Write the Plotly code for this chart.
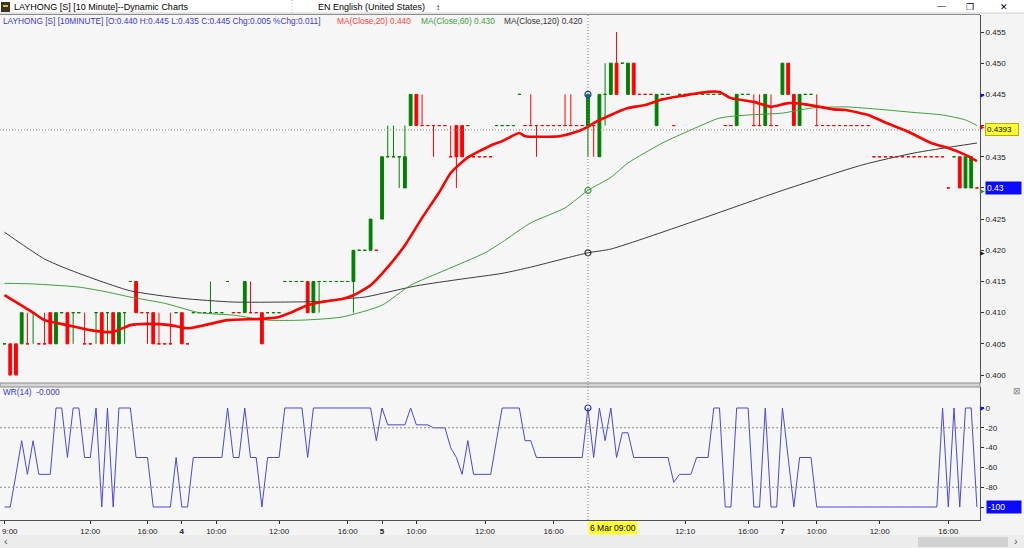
import plotly.graph_objects as go

# ---------------- data ----------------
bar_index = list(range(171))

price_open = [
    0.405, 0.405, 0.405, 0.405, 0.405, 0.410, 0.405, 0.405, 0.410, 0.405,
    0.410, 0.410, 0.410, 0.410, 0.405, 0.405, 0.410, 0.410, 0.410, 0.410,
    0.405, 0.410, 0.415, 0.415, 0.410, 0.410, 0.410, 0.405, 0.405, 0.405,
    0.410, 0.410, 0.405, 0.410, 0.410, 0.410, 0.410, 0.410, 0.410, 0.415,
    0.410, 0.410, 0.410, 0.410, 0.410, 0.410, 0.410, 0.410, 0.410, 0.415,
    0.415, 0.415, 0.415, 0.415, 0.410, 0.415, 0.415, 0.415, 0.415, 0.415,
    0.415, 0.415, 0.420, 0.420, 0.420, 0.420, 0.425, 0.435, 0.435, 0.435,
    0.430, 0.440, 0.445, 0.440, 0.440, 0.440, 0.440, 0.440, 0.435, 0.440,
    0.440, 0.440, 0.435, 0.435, 0.435, 0.435, 0.440, 0.440, 0.440, 0.440,
    0.445, 0.440, 0.440, 0.440, 0.440, 0.440, 0.440, 0.440, 0.440, 0.440,
    0.440, 0.440, 0.440, 0.440, 0.435, 0.445, 0.445, 0.450, 0.450, 0.445,
    0.450, 0.445, 0.445, 0.445, 0.440, 0.445, 0.445, 0.440, 0.445, 0.445,
    0.445, 0.445, 0.445, 0.445, 0.445, 0.445, 0.440, 0.440, 0.440, 0.445,
    0.445, 0.440, 0.440, 0.440, 0.440, 0.440, 0.445, 0.450, 0.445, 0.440,
    0.445, 0.445, 0.440, 0.440, 0.440, 0.440, 0.440, 0.440, 0.440, 0.440,
    0.440, 0.440, 0.435, 0.435, 0.435, 0.435, 0.435, 0.435, 0.435, 0.435,
    0.435, 0.435, 0.435, 0.435, 0.435, 0.430, 0.435, 0.435, 0.430, 0.430,
    0.430]
price_high = [
    0.405, 0.405, 0.405, 0.410, 0.410, 0.410, 0.405, 0.410, 0.410, 0.410,
    0.410, 0.410, 0.410, 0.410, 0.410, 0.405, 0.410, 0.410, 0.410, 0.410,
    0.410, 0.410, 0.415, 0.415, 0.410, 0.410, 0.410, 0.410, 0.405, 0.410,
    0.410, 0.410, 0.405, 0.410, 0.410, 0.410, 0.415, 0.410, 0.410, 0.415,
    0.410, 0.410, 0.415, 0.415, 0.410, 0.410, 0.410, 0.410, 0.410, 0.415,
    0.415, 0.415, 0.415, 0.415, 0.415, 0.415, 0.415, 0.415, 0.415, 0.415,
    0.415, 0.420, 0.420, 0.420, 0.425, 0.420, 0.435, 0.440, 0.440, 0.435,
    0.440, 0.445, 0.445, 0.445, 0.440, 0.440, 0.440, 0.440, 0.440, 0.440,
    0.440, 0.440, 0.435, 0.435, 0.435, 0.435, 0.440, 0.440, 0.440, 0.440,
    0.445, 0.440, 0.445, 0.440, 0.440, 0.440, 0.440, 0.440, 0.445, 0.445,
    0.440, 0.440, 0.445, 0.440, 0.445, 0.450, 0.450, 0.455, 0.450, 0.450,
    0.450, 0.445, 0.445, 0.445, 0.445, 0.445, 0.445, 0.440, 0.445, 0.445,
    0.445, 0.445, 0.445, 0.445, 0.445, 0.445, 0.440, 0.440, 0.445, 0.445,
    0.445, 0.445, 0.445, 0.445, 0.445, 0.440, 0.450, 0.450, 0.445, 0.445,
    0.445, 0.445, 0.445, 0.440, 0.440, 0.440, 0.440, 0.440, 0.440, 0.440,
    0.440, 0.440, 0.435, 0.435, 0.435, 0.435, 0.435, 0.435, 0.435, 0.435,
    0.435, 0.435, 0.435, 0.435, 0.435, 0.430, 0.435, 0.435, 0.435, 0.435,
    0.430]
price_low = [
    0.405, 0.400, 0.400, 0.405, 0.405, 0.405, 0.405, 0.405, 0.405, 0.405,
    0.410, 0.405, 0.405, 0.410, 0.405, 0.405, 0.405, 0.405, 0.405, 0.405,
    0.405, 0.405, 0.415, 0.410, 0.410, 0.405, 0.405, 0.405, 0.405, 0.405,
    0.410, 0.405, 0.405, 0.410, 0.410, 0.410, 0.410, 0.410, 0.410, 0.415,
    0.410, 0.410, 0.410, 0.410, 0.410, 0.405, 0.410, 0.410, 0.410, 0.415,
    0.415, 0.415, 0.415, 0.410, 0.410, 0.410, 0.415, 0.415, 0.415, 0.415,
    0.415, 0.410, 0.420, 0.420, 0.420, 0.420, 0.425, 0.435, 0.435, 0.430,
    0.430, 0.440, 0.440, 0.440, 0.440, 0.435, 0.440, 0.440, 0.435, 0.430,
    0.435, 0.440, 0.435, 0.435, 0.435, 0.435, 0.440, 0.440, 0.440, 0.440,
    0.445, 0.440, 0.440, 0.435, 0.440, 0.440, 0.440, 0.440, 0.440, 0.440,
    0.440, 0.440, 0.435, 0.435, 0.435, 0.440, 0.445, 0.445, 0.450, 0.445,
    0.445, 0.445, 0.445, 0.445, 0.440, 0.445, 0.445, 0.440, 0.445, 0.445,
    0.445, 0.445, 0.445, 0.445, 0.445, 0.445, 0.440, 0.440, 0.440, 0.445,
    0.445, 0.440, 0.440, 0.440, 0.440, 0.440, 0.445, 0.445, 0.440, 0.440,
    0.445, 0.445, 0.440, 0.440, 0.440, 0.440, 0.440, 0.440, 0.440, 0.440,
    0.440, 0.440, 0.435, 0.435, 0.435, 0.435, 0.435, 0.435, 0.435, 0.435,
    0.435, 0.435, 0.435, 0.435, 0.435, 0.430, 0.435, 0.430, 0.430, 0.430,
    0.430]
price_close = [
    0.405, 0.400, 0.400, 0.410, 0.405, 0.410, 0.405, 0.405, 0.405, 0.410,
    0.410, 0.405, 0.410, 0.410, 0.405, 0.405, 0.410, 0.405, 0.410, 0.405,
    0.410, 0.410, 0.415, 0.410, 0.410, 0.410, 0.405, 0.405, 0.405, 0.405,
    0.410, 0.405, 0.405, 0.410, 0.410, 0.410, 0.410, 0.410, 0.410, 0.415,
    0.410, 0.410, 0.415, 0.410, 0.410, 0.405, 0.410, 0.410, 0.410, 0.415,
    0.415, 0.415, 0.415, 0.410, 0.415, 0.415, 0.415, 0.415, 0.415, 0.415,
    0.415, 0.420, 0.420, 0.420, 0.425, 0.420, 0.435, 0.435, 0.435, 0.435,
    0.435, 0.445, 0.440, 0.440, 0.440, 0.440, 0.440, 0.440, 0.435, 0.435,
    0.435, 0.440, 0.435, 0.435, 0.435, 0.435, 0.440, 0.440, 0.440, 0.440,
    0.445, 0.440, 0.440, 0.440, 0.440, 0.440, 0.440, 0.440, 0.440, 0.440,
    0.440, 0.440, 0.445, 0.440, 0.445, 0.445, 0.450, 0.445, 0.450, 0.450,
    0.445, 0.445, 0.445, 0.445, 0.445, 0.445, 0.445, 0.440, 0.445, 0.445,
    0.445, 0.445, 0.445, 0.445, 0.445, 0.445, 0.440, 0.440, 0.445, 0.445,
    0.445, 0.440, 0.440, 0.445, 0.440, 0.440, 0.450, 0.445, 0.440, 0.445,
    0.445, 0.445, 0.440, 0.440, 0.440, 0.440, 0.440, 0.440, 0.440, 0.440,
    0.440, 0.440, 0.435, 0.435, 0.435, 0.435, 0.435, 0.435, 0.435, 0.435,
    0.435, 0.435, 0.435, 0.435, 0.435, 0.430, 0.435, 0.430, 0.435, 0.435,
    0.430]

wr14 = [
    -100, -100, -67, -33, -67, -33, -67, -67, -67, 0,
    0, -50, 0, 0, -50, -50, 0, -100, 0, -100,
    0, 0, 0, -50, -50, -50, -100, -100, -100, -100,
    -50, -100, -100, -50, -50, -50, -50, -50, -50, 0,
    -50, -50, 0, -50, -50, -100, -50, -50, -50, 0,
    0, 0, 0, -50, 0, 0, 0, 0, 0, 0,
    0, 0, 0, 0, 0, -33, 0, -17, -17, -17,
    -17, 0, -17, -17, -17, -20, -20, -20, -40, -50,
    -67, -33, -67, -67, -67, -67, -33, 0, 0, 0,
    0, -33, -33, -50, -50, -50, -50, -50, -50, -50,
    -50, -50, 0, -50, 0, -33, 0, -50, -25, -25,
    -50, -50, -50, -50, -50, -50, -50, -75, -67, -67,
    -67, -50, -50, -50, 0, 0, -100, -100, 0, 0,
    0, -100, -100, 0, -100, -100, 0, -50, -100, -50,
    -50, -50, -100, -100, -100, -100, -100, -100, -100, -100,
    -100, -100, -100, -100, -100, -100, -100, -100, -100, -100,
    -100, -100, -100, -100, 0, -100, 0, -100, 0, 0,
    -100]

ma20_idx = [0, 5, 7, 11, 15, 19, 22, 25, 29, 32, 35, 39, 45, 48, 50, 53, 56, 59, 61, 64,
            67, 70, 73, 76, 78, 81, 85, 87, 90, 91, 97, 100, 102, 103, 106, 109, 112, 115, 118, 123,
            125, 127, 131, 134, 137, 140, 145, 147, 151, 154, 158, 162, 165, 168, 170]
ma20_val = [0.4128, 0.4100, 0.4088, 0.4080, 0.4072, 0.4069, 0.4080, 0.4082, 0.4080, 0.4075,
            0.4080, 0.4088, 0.4090, 0.4093, 0.4100, 0.4112, 0.4118, 0.4122, 0.4128, 0.4144,
            0.4173, 0.4208, 0.4252, 0.4293, 0.4324, 0.4349, 0.4368, 0.4375, 0.4388, 0.4383,
            0.4383, 0.4390, 0.4398, 0.4404, 0.4417, 0.4428, 0.4433, 0.4442, 0.4447, 0.4454,
            0.4454, 0.4444, 0.4438, 0.4430, 0.4436, 0.4434, 0.4426, 0.4425, 0.4417, 0.4405,
            0.4390, 0.4372, 0.4364, 0.4353, 0.4343]

ma60_idx = [0, 5, 13, 18, 22, 28, 34, 40, 46, 52, 59, 66, 71, 77, 84, 87, 92, 98, 102, 106,
            109, 115, 120, 125, 130, 136, 141, 147, 153, 159, 164, 168, 170]
ma60_val = [0.4147, 0.4146, 0.4141, 0.4133, 0.4125, 0.4115, 0.4100, 0.4096, 0.4088, 0.4088,
            0.4093, 0.4112, 0.4144, 0.4168, 0.4196, 0.4213, 0.4244, 0.4268, 0.4296, 0.4317,
            0.4340, 0.4372, 0.4393, 0.4412, 0.4417, 0.4420, 0.4428, 0.4430, 0.4426, 0.4421,
            0.4417, 0.4409, 0.4400]

ma120_idx = [0, 3, 7, 11, 16, 22, 31, 40, 49, 55, 59, 63, 72, 80, 87, 92, 102, 106, 121, 136,
             150, 159, 170]
ma120_val = [0.4229, 0.4210, 0.4186, 0.4170, 0.4153, 0.4135, 0.4123, 0.4117, 0.4117, 0.4118,
             0.4122, 0.4125, 0.4143, 0.4154, 0.4163, 0.4173, 0.4196, 0.4202, 0.4248, 0.4296,
             0.4337, 0.4356, 0.4372]

price_ticks = [0.400, 0.405, 0.410, 0.415, 0.420, 0.425, 0.430, 0.435, 0.440, 0.445, 0.450, 0.455]
wr_ticks = [0, -20, -40, -60, -80, -100]
wr_guides = [-20, -80]
time_tick_idx = [0, 15, 25, 31, 37, 48, 60, 66, 72, 84, 96, 119, 130, 136, 142, 153, 165]
time_tick_text = ["", "12:00", "16:00", "<b>4</b>", "10:00", "12:00", "16:00", "<b>5</b>",
                  "10:00", "12:00", "16:00", "12:10", "16:00", "<b>7</b>", "10:00", "12:00", "16:00"]
first_time_label = "9:00"
cross_idx = 102
cross_label = "6 Mar 09:00"
cross_price = 0.4393

# ---------------- helpers for layout positions ----------------
W, H = 1024, 548
def px(v):
    return v / W
def py(v):
    return 1 - v / H

FONT = "Liberation Sans, Arial, sans-serif"
XDOM = [0, px(980)]
XR = [-0.79, 170.54]

last_close = price_close[-1]
last_wr = wr14[-1]

fig = go.Figure()

fig.add_trace(go.Scatter(x=ma120_idx, y=ma120_val, mode="lines",
                         line=dict(color="#3a3a3a", width=1, shape="spline", smoothing=0.6),
                         xaxis="x", yaxis="y", hoverinfo="skip"))
fig.add_trace(go.Scatter(x=ma60_idx, y=ma60_val, mode="lines",
                         line=dict(color="#3f9f3f", width=1, shape="spline", smoothing=0.6),
                         xaxis="x", yaxis="y", hoverinfo="skip"))
fig.add_trace(go.Candlestick(x=bar_index, open=price_open, high=price_high,
                             low=price_low, close=price_close,
                             increasing=dict(line=dict(color="#008000", width=1), fillcolor="#008000"),
                             decreasing=dict(line=dict(color="#ff0000", width=1), fillcolor="#ff0000"),
                             whiskerwidth=0, xaxis="x", yaxis="y"))
fig.add_trace(go.Scatter(x=ma20_idx, y=ma20_val, mode="lines",
                         line=dict(color="#ff0000", width=2.6, shape="spline", smoothing=0.5),
                         xaxis="x", yaxis="y", hoverinfo="skip"))

ma20_c = ma20_val[ma20_idx.index(cross_idx)]
ma60_c = ma60_val[ma60_idx.index(cross_idx)]
ma120_c = ma120_val[ma120_idx.index(cross_idx)]

# crosshair markers
fig.add_trace(go.Scatter(x=[cross_idx], y=[price_close[cross_idx]], mode="markers",
                         marker=dict(symbol="circle-open", size=6, color="#2a2ad0", line=dict(width=1.2)),
                         xaxis="x", yaxis="y"))
fig.add_trace(go.Scatter(x=[cross_idx], y=[ma60_c], mode="markers",
                         marker=dict(symbol="circle-open", size=6, color="#3f9f3f", line=dict(width=1.2)),
                         xaxis="x", yaxis="y"))
fig.add_trace(go.Scatter(x=[cross_idx], y=[ma120_c], mode="markers",
                         marker=dict(symbol="circle-open", size=6, color="#333333", line=dict(width=1.2)),
                         xaxis="x", yaxis="y"))

# WR panel
fig.add_trace(go.Scatter(x=bar_index, y=wr14, mode="lines",
                         line=dict(color="#4848dc", width=1),
                         xaxis="x2", yaxis="y2", hoverinfo="skip"))
fig.add_trace(go.Scatter(x=[cross_idx], y=[wr14[cross_idx]], mode="markers",
                         marker=dict(symbol="circle-open", size=6, color="#2a2ad0", line=dict(width=1.2)),
                         xaxis="x2", yaxis="y2"))

shapes = []
# title bar
shapes.append(dict(type="rect", xref="paper", yref="paper", x0=0, x1=1, y0=py(13), y1=1,
                   fillcolor="#ffffff", line=dict(width=0), layer="below"))
shapes.append(dict(type="rect", xref="paper", yref="paper", x0=px(1), x1=px(10), y0=py(12), y1=py(2),
                   fillcolor="#3a3424", line=dict(width=0)))
shapes.append(dict(type="rect", xref="paper", yref="paper", x0=px(3), x1=px(8), y0=py(7), y1=py(5),
                   fillcolor="#e0c020", line=dict(width=0)))
shapes.append(dict(type="line", xref="paper", yref="paper", x0=px(292), x1=px(292), y0=py(13), y1=py(0),
                   line=dict(color="#b0b0b0", width=1, dash="1px,2px")))
shapes.append(dict(type="line", xref="paper", yref="paper", x0=0, x1=1, y0=py(13), y1=py(13),
                   line=dict(color="#d0d0d0", width=1)))
shapes.append(dict(type="line", xref="paper", yref="paper", x0=0, x1=px(980), y0=py(14.5), y1=py(14.5),
                   line=dict(color="#8c8c8c", width=1)))
# separator between panels
shapes.append(dict(type="rect", xref="paper", yref="paper", x0=0, x1=px(980), y0=py(387), y1=py(383),
                   fillcolor="#d6d6d6", line=dict(color="#8c8c8c", width=1)))
# crosshair lines
shapes.append(dict(type="line", xref="x domain", yref="y", x0=0, x1=1, y0=cross_price, y1=cross_price,
                   line=dict(color="#808080", width=1, dash="1px,2px")))
shapes.append(dict(type="line", xref="x", yref="paper", x0=cross_idx, x1=cross_idx, y0=py(520), y1=py(15),
                   line=dict(color="#808080", width=1, dash="1px,2px")))
# WR guide lines
for g in wr_guides:
    shapes.append(dict(type="line", xref="x2 domain", yref="y2", x0=0, x1=1, y0=g, y1=g,
                       line=dict(color="#8a8a8a", width=1, dash="2px,2px")))
# scrollbar
shapes.append(dict(type="rect", xref="paper", yref="paper", x0=0, x1=1, y0=0, y1=py(535),
                   fillcolor="#ececec", line=dict(width=0)))
shapes.append(dict(type="rect", xref="paper", yref="paper", x0=px(918), x1=px(1008), y0=py(547), y1=py(537),
                   fillcolor="#d2d2d2", line=dict(width=0)))

ann = []
def text(x, y, s, color="#000000", size=9, xanchor="left", xref="paper", yref="paper", **kw):
    ann.append(dict(x=x, y=y, xref=xref, yref=yref, text=s, showarrow=False, xanchor=xanchor,
                    yanchor="middle", font=dict(family=FONT, size=size, color=color), **kw))

text(px(12), py(7), "LAYHONG [S] [10 Minute]--Dynamic Charts", size=9)
text(px(316), py(7), "EN English (United States)", size=9)
text(px(434), py(7), "↕", size=8)
text(px(941), py(6), "—", size=9, xanchor="center")
text(px(970), py(7), "❐", size=9, xanchor="center")
text(px(1004), py(7), "✕", size=9, xanchor="center")

o, h, l, c = (price_open[cross_idx], price_high[cross_idx], price_low[cross_idx], price_close[cross_idx])
pc = price_close[cross_idx - 1]
header = (f"LAYHONG [S] [10MINUTE] [O:{o:.3f} H:{h:.3f} L:{l:.3f} C:{c:.3f} "
          f"Chg:{c - pc:.3f} %Chg:{(c - pc) / pc:.3f}]")
text(px(1), py(21), header, color="#3a3ad0", size=8.3)
text(px(335), py(21), f"MA(Close,20) {ma20_c:.3f}", color="#ff4040", size=8.3)
text(px(419), py(21), f"MA(Close,60) {ma60_c:.3f}", color="#3f9f3f", size=8.3)
text(px(502), py(21), f"MA(Close,120) {ma120_c:.3f}", color="#333333", size=8.3)
text(px(1), py(392), f"WR(14)  {-abs(float(wr14[cross_idx])):.3f}", color="#3a3ad0", size=8.3)
text(px(1017), py(391), "⊠", color="#888888", size=9, xanchor="center")
text(px(0), py(531), first_time_label, color="#202020", size=8)

# right-edge value markers at the crosshair
for val, col in [(c, "#1010ff"), (ma20_c, "#ff0000"), (ma60_c, "#2f8f2f"), (ma120_c, "#222222")]:
    ann.append(dict(x=1, y=val, xref="x domain", yref="y", text="▶", showarrow=False,
                    xanchor="left", yanchor="middle", xshift=-2,
                    font=dict(family="DejaVu Sans", size=6, color=col)))
ann.append(dict(x=1, y=wr14[cross_idx], xref="x2 domain", yref="y2", text="▶", showarrow=False,
                xanchor="left", yanchor="middle", xshift=-2,
                font=dict(family="DejaVu Sans", size=6, color="#1010ff")))

ann.append(dict(x=px(985), y=cross_price, xref="paper", yref="y", text=f"{cross_price:.4f}",
                showarrow=False, xanchor="left", yanchor="middle", bgcolor="#ffff30",
                bordercolor="#b0b000", borderwidth=1, borderpad=1, width=30, align="left",
                font=dict(family=FONT, size=8, color="#000000")))
ann.append(dict(x=px(985), y=last_close, xref="paper", yref="y", text=f"{last_close:g}",
                showarrow=False, xanchor="left", yanchor="middle", bgcolor="#0a0aff",
                width=33, align="left", borderpad=1,
                font=dict(family=FONT, size=8.5, color="#ffffff")))
ann.append(dict(x=px(986), y=last_wr, xref="paper", yref="y2", text=f"{last_wr}",
                showarrow=False, xanchor="left", yanchor="middle", bgcolor="#0a0aff",
                width=32, align="left", borderpad=1,
                font=dict(family=FONT, size=8.5, color="#ffffff")))
ann.append(dict(x=cross_idx, y=py(528), xref="x2", yref="paper", text=cross_label,
                showarrow=False, xanchor="left", yanchor="middle", bgcolor="#ffff30",
                borderpad=1, font=dict(family=FONT, size=8.5, color="#000000")))
text(px(2), py(541), "‹", size=11, color="#555555")
text(px(1016), py(541), "›", size=11, color="#555555", xanchor="center")

# tick texts: values hidden under the last-value / crosshair boxes are left blank
price_ticktext = ["" if (abs(v - last_close) < 1e-9 or abs(v - cross_price) < 0.002) else f"{v:.3f}"
                  for v in price_ticks]
wr_ticktext = ["" if v == last_wr else str(v) for v in wr_ticks]

axis_font = dict(family=FONT, size=8, color="#202020")
fig.update_layout(
    width=W, height=H, margin=dict(l=0, r=0, t=0, b=0, autoexpand=False),
    paper_bgcolor="#f4f4f4", plot_bgcolor="#f6f6f6",
    showlegend=False, boxgap=0.3, hovermode=False,
    xaxis=dict(domain=XDOM, range=XR, showticklabels=False, showgrid=False, zeroline=False,
               rangeslider=dict(visible=False), anchor="y", showline=False, ticks="",
               automargin=False),
    yaxis=dict(domain=[py(383), py(15)], range=[0.39872, 0.45773], side="right", anchor="x",
               tickvals=price_ticks, ticktext=price_ticktext, automargin=False,
               ticks="outside", ticklen=3, tickcolor="#333333", showgrid=False, zeroline=False,
               showline=True, linecolor="#505050", linewidth=1, tickfont=axis_font),
    xaxis2=dict(domain=XDOM, range=XR, anchor="y2", tickvals=time_tick_idx, ticktext=time_tick_text,
                ticks="outside", ticklen=3, tickcolor="#333333", showgrid=False, zeroline=False,
                showline=True, linecolor="#505050", linewidth=1, tickfont=axis_font, tickangle=0,
                ticklabeloverflow="allow", automargin=False),
    yaxis2=dict(domain=[py(520), py(387)], range=[-113.1, 21.2], side="right", anchor="x2",
                tickvals=wr_ticks, ticktext=wr_ticktext, ticks="outside", ticklen=3, tickcolor="#333333",
                showgrid=False, zeroline=False, showline=True, linecolor="#505050", linewidth=1,
                tickfont=axis_font, automargin=False),
    shapes=shapes, annotations=ann,
)

fig.write_html("out.html", config={"displayModeBar": False},
               post_script="document.body.style.margin='0px';document.body.style.overflow='hidden';")
